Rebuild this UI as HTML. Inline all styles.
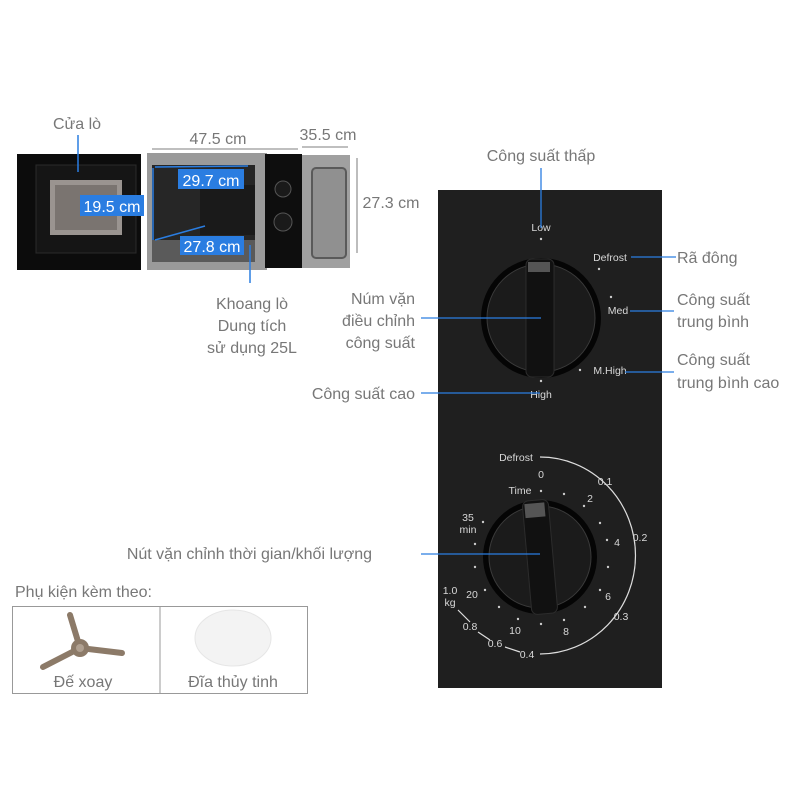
<!DOCTYPE html>
<html><head><meta charset="utf-8"><style>
body{margin:0;background:#fff;}
svg{display:block;font-family:"Liberation Sans",sans-serif;}
.g{fill:#777;font-size:16px;}
.w{fill:#d8d8d8;font-size:10.5px;}
</style></head><body>
<svg width="800" height="800" viewBox="0 0 800 800">
<!-- microwave -->
<rect x="17" y="154" width="124" height="116" fill="#0c0c0c"/>
<rect x="36" y="165" width="100" height="88" fill="#151515" stroke="#2a2a2a"/>
<rect x="50" y="180" width="72" height="55" fill="#9a9490"/>
<rect x="55" y="185" width="62" height="45" fill="#7a7470"/>
<rect x="147" y="153" width="120" height="117" fill="#9a9a9a"/>
<rect x="152" y="165" width="103" height="78" fill="#262626"/>
<rect x="200" y="185" width="55" height="50" fill="#1a1a1a"/>
<rect x="152" y="240" width="103" height="22" fill="#5a5a5a"/>
<rect x="265" y="154" width="37" height="114" fill="#0e0e0e"/>
<circle cx="283" cy="189" r="8" fill="#1a1a1a" stroke="#555"/>
<circle cx="283" cy="222" r="9" fill="#1a1a1a" stroke="#555"/>
<rect x="302" y="155" width="48" height="113" fill="#a0a0a0"/>
<rect x="312" y="168" width="34" height="90" rx="4" fill="#909090" stroke="#5a5a5a" stroke-width="2"/>
<!-- dims gray -->
<g stroke="#999" stroke-width="1.3" fill="#999">
<line x1="152" y1="149" x2="298" y2="149"/>
<line x1="302" y1="147" x2="348" y2="147"/>
<line x1="357" y1="158" x2="357" y2="253"/>
</g>
<text class="g" x="218" y="144" text-anchor="middle">47.5 cm</text>
<text class="g" x="328" y="140" text-anchor="middle">35.5 cm</text>
<text class="g" x="391" y="208" text-anchor="middle">27.3 cm</text>
<!-- blue dims -->
<g stroke="#2a7de1" stroke-width="1.5">
<line x1="155" y1="167" x2="248" y2="166"/>
<line x1="153" y1="168" x2="153" y2="240"/>
<line x1="155" y1="240" x2="205" y2="226"/>
<line x1="78" y1="135" x2="78" y2="172"/>
<line x1="250" y1="245" x2="250" y2="283"/>
</g>
<rect x="178" y="169" width="66" height="20" fill="#2a7de1"/>
<text x="211" y="186" fill="#fff" font-size="16" text-anchor="middle">29.7 cm</text>
<rect x="80" y="195" width="64" height="21" fill="#2a7de1"/>
<text x="112" y="212" fill="#fff" font-size="16" text-anchor="middle">19.5 cm</text>
<rect x="180" y="236" width="64" height="19" fill="#2a7de1"/>
<text x="212" y="252" fill="#fff" font-size="16" text-anchor="middle">27.8 cm</text>
<text class="g" x="77" y="129" text-anchor="middle">Cửa lò</text>
<text class="g" x="252" y="309" text-anchor="middle">Khoang lò</text>
<text class="g" x="252" y="331" text-anchor="middle">Dung tích</text>
<text class="g" x="252" y="353" text-anchor="middle">sử dụng 25L</text>
<!-- panel -->
<rect x="438" y="190" width="224" height="498" fill="#1f1f1f"/>
<!-- upper knob -->
<circle cx="541" cy="318" r="60" fill="#050505"/>
<circle cx="541" cy="318" r="54" fill="#1b1b1b" stroke="#3a3a3a"/>
<rect x="526" y="259" width="28" height="118" rx="6" fill="#111" stroke="#2c2c2c"/>
<rect x="528" y="262" width="22" height="10" fill="#555"/>
<g class="w" text-anchor="middle">
<text x="541" y="231">Low</text>
<text x="610" y="261">Defrost</text>
<text x="618" y="314">Med</text>
<text x="610" y="374">M.High</text>
<text x="541" y="398">High</text>
</g>
<g fill="#ccc"><circle cx="541" cy="239" r="1.2"/><circle cx="599" cy="269" r="1.2"/><circle cx="611" cy="297" r="1.2"/><circle cx="580" cy="370" r="1.2"/><circle cx="541" cy="381" r="1.2"/></g>
<!-- lower knob -->
<path d="M540 457 A95 98 0 0 1 540 654" fill="none" stroke="#ddd" stroke-width="1.2"/>
<path d="M458 610 L470 622 M478 632 L490 640 M505 647 L520 652" fill="none" stroke="#ddd" stroke-width="1.2"/>
<circle cx="540" cy="557" r="57" fill="#050505"/>
<circle cx="540" cy="557" r="51" fill="#1b1b1b" stroke="#3a3a3a"/>
<rect x="527" y="500" width="26" height="114" rx="6" fill="#111" stroke="#2c2c2c" transform="rotate(-5 540 557)"/>
<rect x="529" y="503" width="20" height="14" fill="#555" transform="rotate(-5 540 557)"/>
<g class="w" text-anchor="middle">
<text x="516" y="461">Defrost</text>
<text x="541" y="478">0</text>
<text x="520" y="494">Time</text>
<text x="590" y="502">2</text>
<text x="468" y="521">35</text>
<text x="468" y="533">min</text>
<text x="617" y="546">4</text>
<text x="605" y="485">0.1</text>
<text x="640" y="541">0.2</text>
<text x="608" y="600">6</text>
<text x="621" y="620">0.3</text>
<text x="566" y="635">8</text>
<text x="515" y="634">10</text>
<text x="472" y="598">20</text>
<text x="450" y="594">1.0</text>
<text x="450" y="606">kg</text>
<text x="470" y="630">0.8</text>
<text x="495" y="647">0.6</text>
<text x="527" y="658">0.4</text>
</g>
<g fill="#ccc">
<circle cx="541" cy="491" r="1.2"/><circle cx="564" cy="494" r="1.2"/><circle cx="584" cy="506" r="1.2"/><circle cx="600" cy="523" r="1.2"/><circle cx="607" cy="540" r="1.2"/><circle cx="608" cy="567" r="1.2"/><circle cx="600" cy="590" r="1.2"/><circle cx="585" cy="607" r="1.2"/><circle cx="564" cy="620" r="1.2"/><circle cx="541" cy="624" r="1.2"/><circle cx="518" cy="619" r="1.2"/><circle cx="499" cy="607" r="1.2"/><circle cx="485" cy="590" r="1.2"/><circle cx="475" cy="567" r="1.2"/><circle cx="475" cy="544" r="1.2"/><circle cx="483" cy="522" r="1.2"/>
</g>
<!-- callouts -->
<g stroke="#2a7de1" stroke-width="1.3">
<line x1="541" y1="168" x2="541" y2="228"/>
<line x1="631" y1="257" x2="676" y2="257"/>
<line x1="630" y1="311" x2="674" y2="311"/>
<line x1="625" y1="372" x2="674" y2="372"/>
<line x1="421" y1="318" x2="541" y2="318"/>
<line x1="421" y1="393" x2="540" y2="393"/>
<line x1="421" y1="554" x2="540" y2="554"/>
</g>
<text class="g" x="541" y="161" text-anchor="middle">Công suất thấp</text>
<text class="g" x="677" y="263">Rã đông</text>
<text class="g" x="677" y="305">Công suất</text>
<text class="g" x="677" y="327">trung bình</text>
<text class="g" x="677" y="365">Công suất</text>
<text class="g" x="677" y="388">trung bình cao</text>
<text class="g" x="415" y="304" text-anchor="end">Núm vặn</text>
<text class="g" x="415" y="326" text-anchor="end">điều chỉnh</text>
<text class="g" x="415" y="348" text-anchor="end">công suất</text>
<text class="g" x="415" y="399" text-anchor="end">Công suất cao</text>
<text class="g" x="372" y="559" text-anchor="end">Nút vặn chỉnh thời gian/khối lượng</text>
<!-- accessories -->
<text class="g" x="15" y="597">Phụ kiện kèm theo:</text>
<rect x="12.5" y="606.5" width="295" height="87" fill="none" stroke="#999"/>
<line x1="160" y1="606" x2="160" y2="694" stroke="#999"/>
<g stroke="#8c7a68" stroke-width="6" stroke-linecap="round">
<line x1="80" y1="648" x2="70" y2="615"/>
<line x1="80" y1="648" x2="43" y2="667"/>
<line x1="80" y1="648" x2="122" y2="653"/>
</g>
<circle cx="80" cy="648" r="9" fill="#8c7a68"/>
<circle cx="80" cy="648" r="4" fill="#b0a090"/>
<ellipse cx="233" cy="638" rx="38" ry="28" fill="#f3f3f3" stroke="#e6e6e6"/>
<text class="g" x="83" y="687" text-anchor="middle">Đế xoay</text>
<text class="g" x="233" y="687" text-anchor="middle">Đĩa thủy tinh</text>
</svg>
</body></html>
